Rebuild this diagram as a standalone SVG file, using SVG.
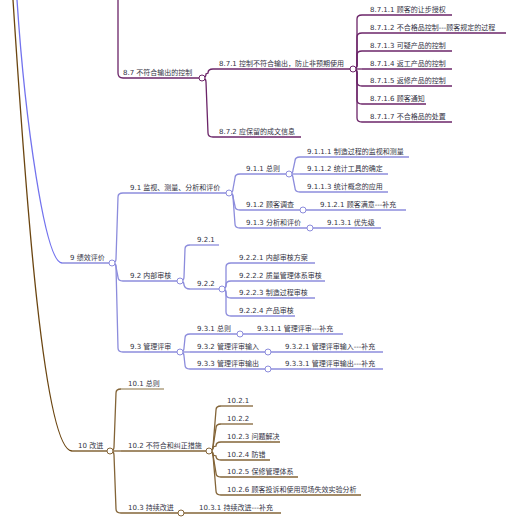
<svg xmlns="http://www.w3.org/2000/svg" width="520" height="523" viewBox="0 0 520 523">
<style>
.t{font-family:"DejaVu Sans","Noto Sans CJK SC",sans-serif;font-size:7px;fill:#333344}
.lp{stroke:#6b2468;fill:none;stroke-width:1.3}
.lb{stroke:#8c8cdc;fill:none;stroke-width:1.3}
.lw{stroke:#836437;fill:none;stroke-width:1.3}
.cp{fill:#fff;stroke:#6b2468;stroke-width:1}
.cb{fill:#fff;stroke:#8c8cdc;stroke-width:1}
.cw{fill:#fff;stroke:#836437;stroke-width:1}
</style>
<rect width="520" height="523" fill="#fff"/>
<g id="connectors">
<path d="M118,0 L118,73 Q118,78 123,78" class="lp" stroke-width="1.8"/>
<path d="M17,0 C25,120 45,263 62,263" class="lb" style="stroke:#7272ee" stroke-width="1.8"/>
<path d="M13,0 C26,200 44,451 72,451" class="lw" style="stroke:#6b4510" stroke-width="2"/>
<path class="lp" d="M202,78 Q206,78 206,74 L208,73 Q208,69 213,69"/>
<path class="lp" d="M202,78 Q206,78 206,82 L208,133 Q208,137 213,137"/>
<path class="lp" d="M353,69 Q357,69 357,65 L357,19 Q357,15 362,15"/>
<path class="lp" d="M353,69 Q357,69 357,65 L357,37 Q357,33 362,33"/>
<path class="lp" d="M353,69 Q357,69 357,65 L357,55 Q357,51 362,51"/>
<path class="lp" d="M353,69 L362,69"/>
<path class="lp" d="M353,69 Q357,69 357,73 L357,82 Q357,86 362,86"/>
<path class="lp" d="M353,69 Q357,69 357,73 L357,100 Q357,104 362,104"/>
<path class="lp" d="M353,69 Q357,69 357,73 L357,118 Q357,122 362,122"/>
<path class="lb" d="M112,263 Q116,263 116,259 L118,197 Q118,193 123,193"/>
<path class="lb" d="M112,263 Q116,263 116,267 L118,277 Q118,281 123,281"/>
<path class="lb" d="M112,263 Q116,263 116,267 L118,348 Q118,352 123,352"/>
<path class="lb" d="M229,193 Q233,193 233,189 L235,178 Q235,174 240,174"/>
<path class="lb" d="M229,193 Q233,193 233,197 L235,206 Q235,210 240,210"/>
<path class="lb" d="M229,193 Q233,193 233,197 L235,224 Q235,228 240,228"/>
<path class="lb" d="M289,174 Q293,174 293,170 L295,161 Q295,157 300,157"/>
<path class="lb" d="M289,174 L300,174"/>
<path class="lb" d="M289,174 Q293,174 293,178 L295,188 Q295,192 300,192"/>
<path class="lb" d="M180,281 Q184,281 184,277 L185,249 Q185,245 190,245"/>
<path class="lb" d="M180,281 Q184,281 184,285 Q185,289 190,289"/>
<path class="lb" d="M222,289 Q226,289 226,285 L226,267 Q226,263 231,263"/>
<path class="lb" d="M222,289 Q226,289 226,285 Q226,281 231,281"/>
<path class="lb" d="M222,289 Q226,289 226,293 L226,294 Q226,298 231,298"/>
<path class="lb" d="M222,289 Q226,289 226,293 L226,312 Q226,316 231,316"/>
<path class="lb" d="M180,352 Q184,352 184,348 L185,338 Q185,334 190,334"/>
<path class="lb" d="M180,352 L190,352"/>
<path class="lb" d="M180,352 Q184,352 184,356 L185,365 Q185,369 190,369"/>
<path class="lw" d="M110,451 Q114,451 114,447 L116,393 Q116,389 121,389"/>
<path class="lw" d="M110,451 L121,451"/>
<path class="lw" d="M110,451 Q114,451 114,455 L116,509 Q116,513 121,513"/>
<path class="lw" d="M209,451 Q213,451 213,447 L216,410 Q216,406 221,406"/>
<path class="lw" d="M209,451 Q213,451 213,447 L216,428 Q216,424 221,424"/>
<path class="lw" d="M209,451 Q213,451 213,447 L216,446 Q216,442 221,442"/>
<path class="lw" d="M209,451 Q213,451 213,455 L216,456 Q216,460 221,460"/>
<path class="lw" d="M209,451 Q213,451 213,455 L216,473 Q216,477 221,477"/>
<path class="lw" d="M209,451 Q213,451 213,455 L216,491 Q216,495 221,495"/>
</g>
<g id="n8_7"><path class="lp" d="M123,78 H199" stroke-width="1.6"/><text class="t" x="123" y="75">8.7 不符合输出的控制</text><circle class="cp" cx="202" cy="78" r="3"/></g>
<g id="n8_7_1"><path class="lp" d="M213,69 H350"/><text class="t" x="219" y="66">8.7.1 控制不符合输出，防止非预期使用</text><circle class="cp" cx="353" cy="69" r="3"/></g>
<g id="n8_7_2"><path class="lp" d="M213,137 H301"/><text class="t" x="219" y="134">8.7.2 应保留的成文信息</text></g>
<g id="n8_7_1_1"><path class="lp" d="M362,15 H452"/><text class="t" x="370" y="12">8.7.1.1 顾客的让步授权</text></g>
<g id="n8_7_1_2"><path class="lp" d="M362,33 H506"/><text class="t" x="370" y="30">8.7.1.2 不合格品控制---顾客规定的过程</text></g>
<g id="n8_7_1_3"><path class="lp" d="M362,51 H452"/><text class="t" x="370" y="48">8.7.1.3 可疑产品的控制</text></g>
<g id="n8_7_1_4"><path class="lp" d="M362,69 H452"/><text class="t" x="370" y="66">8.7.1.4 返工产品的控制</text></g>
<g id="n8_7_1_5"><path class="lp" d="M362,86 H452"/><text class="t" x="370" y="83">8.7.1.5 返修产品的控制</text></g>
<g id="n8_7_1_6"><path class="lp" d="M362,104 H426"/><text class="t" x="370" y="101">8.7.1.6 顾客通知</text></g>
<g id="n8_7_1_7"><path class="lp" d="M362,122 H452"/><text class="t" x="370" y="119">8.7.1.7 不合格品的处置</text></g>
<g id="n9"><path class="lb" d="M62,263 H109" stroke-width="1.6"/><text class="t" x="70" y="260">9 绩效评价</text><circle class="cb" cx="112" cy="263" r="3"/></g>
<g id="n9_1"><path class="lb" d="M123,193 H226"/><text class="t" x="130" y="190">9.1 监视、测量、分析和评价</text><circle class="cb" cx="229" cy="193" r="3"/></g>
<g id="n9_2"><path class="lb" d="M123,281 H177"/><text class="t" x="130" y="278">9.2 内部审核</text><circle class="cb" cx="180" cy="281" r="3"/></g>
<g id="n9_3"><path class="lb" d="M123,352 H177"/><text class="t" x="130" y="349">9.3 管理评审</text><circle class="cb" cx="180" cy="352" r="3"/></g>
<g id="n9_1_1"><path class="lb" d="M240,174 H286"/><text class="t" x="246" y="171">9.1.1 总则</text><circle class="cb" cx="289" cy="174" r="3"/></g>
<g id="n9_1_2"><path class="lb" d="M240,210 H300"/><text class="t" x="246" y="207">9.1.2 顾客调查</text><circle class="cb" cx="303" cy="210" r="3"/></g>
<g id="n9_1_3"><path class="lb" d="M240,228 H307"/><text class="t" x="246" y="225">9.1.3 分析和评价</text><circle class="cb" cx="310" cy="228" r="3"/></g>
<g id="n9_1_1_1"><path class="lb" d="M300,157 H409"/><text class="t" x="307" y="154">9.1.1.1 制造过程的监视和测量</text></g>
<g id="n9_1_1_2"><path class="lb" d="M300,174 H388"/><text class="t" x="307" y="171">9.1.1.2 统计工具的确定</text></g>
<g id="n9_1_1_3"><path class="lb" d="M300,192 H388"/><text class="t" x="307" y="189">9.1.1.3 统计概念的应用</text></g>
<g id="n9_1_2_1"><path class="lb" d="M306,210 H406"/><text class="t" x="320" y="207">9.1.2.1 顾客满意---补充</text></g>
<g id="n9_1_3_1"><path class="lb" d="M313,228 H381"/><text class="t" x="327" y="225">9.1.3.1 优先级</text></g>
<g id="n9_2_1"><path class="lb" d="M190,245 H219"/><text class="t" x="197" y="242">9.2.1</text></g>
<g id="n9_2_2"><path class="lb" d="M190,289 H219"/><text class="t" x="197" y="286">9.2.2</text><circle class="cb" cx="222" cy="289" r="3"/></g>
<g id="n9_2_2_1"><path class="lb" d="M231,263 H315"/><text class="t" x="239" y="260">9.2.2.1 内部审核方案</text></g>
<g id="n9_2_2_2"><path class="lb" d="M231,281 H325"/><text class="t" x="239" y="278">9.2.2.2 质量管理体系审核</text></g>
<g id="n9_2_2_3"><path class="lb" d="M231,298 H315"/><text class="t" x="239" y="295">9.2.2.3 制造过程审核</text></g>
<g id="n9_2_2_4"><path class="lb" d="M231,316 H295"/><text class="t" x="239" y="313">9.2.2.4 产品审核</text></g>
<g id="n9_3_1"><path class="lb" d="M190,334 H237"/><text class="t" x="197" y="331">9.3.1 总则</text><circle class="cb" cx="240" cy="334" r="3"/></g>
<g id="n9_3_2"><path class="lb" d="M190,352 H265"/><text class="t" x="197" y="349">9.3.2 管理评审输入</text><circle class="cb" cx="268" cy="352" r="3"/></g>
<g id="n9_3_3"><path class="lb" d="M190,369 H265"/><text class="t" x="197" y="366">9.3.3 管理评审输出</text><circle class="cb" cx="268" cy="369" r="3"/></g>
<g id="n9_3_1_1"><path class="lb" d="M243,334 H343"/><text class="t" x="257" y="331">9.3.1.1 管理评审---补充</text></g>
<g id="n9_3_2_1"><path class="lb" d="M271,352 H383"/><text class="t" x="285" y="349">9.3.2.1 管理评审输入---补充</text></g>
<g id="n9_3_3_1"><path class="lb" d="M271,369 H383"/><text class="t" x="285" y="366">9.3.3.1 管理评审输出---补充</text></g>
<g id="n10"><path class="lw" d="M72,451 H107" stroke-width="1.6"/><text class="t" x="78" y="448">10 改进</text><circle class="cw" cx="110" cy="451" r="3"/></g>
<g id="n10_1"><path class="lw" d="M121,389 H164" style="stroke:#b0a080" stroke-width="1.6"/><text class="t" x="128" y="386">10.1 总则</text></g>
<g id="n10_2"><path class="lw" d="M121,451 H206"/><text class="t" x="128" y="448">10.2 不符合和纠正措施</text><circle class="cw" cx="209" cy="451" r="3"/></g>
<g id="n10_3"><path class="lw" d="M121,513 H178"/><text class="t" x="128" y="510">10.3 持续改进</text><circle class="cw" cx="181" cy="513" r="3"/></g>
<g id="n10_2_1"><path class="lw" d="M221,406 H253"/><text class="t" x="227" y="403">10.2.1</text></g>
<g id="n10_2_2"><path class="lw" d="M221,424 H253"/><text class="t" x="227" y="421">10.2.2</text></g>
<g id="n10_2_3"><path class="lw" d="M221,442 H280"/><text class="t" x="227" y="439">10.2.3 问题解决</text></g>
<g id="n10_2_4"><path class="lw" d="M221,460 H270"/><text class="t" x="227" y="457">10.2.4 防错</text></g>
<g id="n10_2_5"><path class="lw" d="M221,477 H298"/><text class="t" x="227" y="474">10.2.5 保修管理体系</text></g>
<g id="n10_2_6"><path class="lw" d="M221,495 H361"/><text class="t" x="227" y="492">10.2.6 顾客投诉和使用现场失效实验分析</text></g>
<g id="n10_3_1"><path class="lw" d="M184,513 H281"/><text class="t" x="199" y="510">10.3.1 持续改进---补充</text></g>
</svg>
